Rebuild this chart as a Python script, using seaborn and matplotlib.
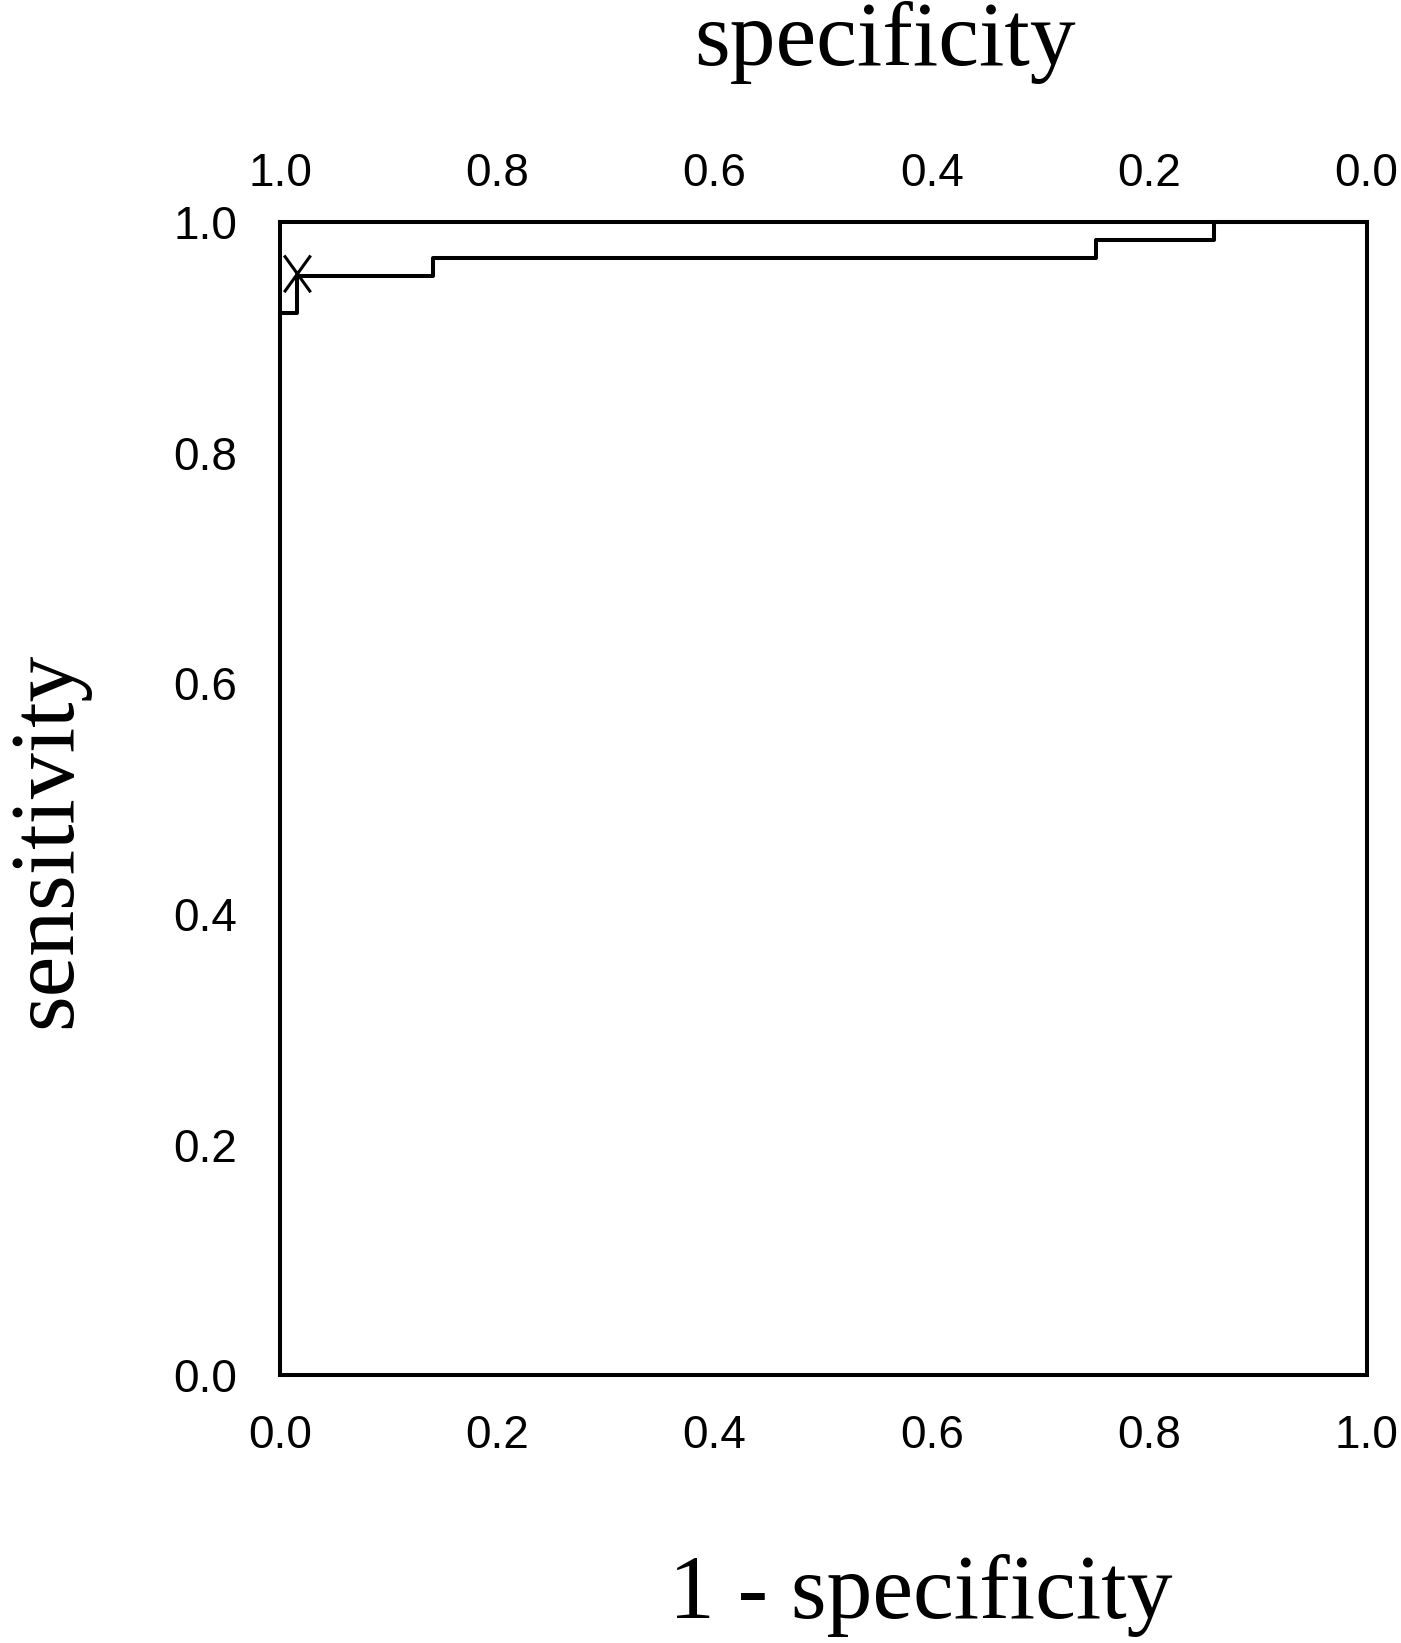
import numpy as np
import pandas as pd
import seaborn as sns
import matplotlib.pyplot as plt
from matplotlib.path import Path

# ROC curve vertices (1 - specificity, sensitivity)
fpr = [0.0, 0.0, 0.016, 0.016, 0.141, 0.141, 0.751, 0.751, 0.860, 0.860, 1.0]
tpr = [0.0, 0.921, 0.921, 0.953, 0.953, 0.969, 0.969, 0.984, 0.984, 1.0, 1.0]

# cut-off point marked with X
cut_fpr = [0.016]
cut_tpr = [0.955]

ticks = [0.0, 0.2, 0.4, 0.6, 0.8, 1.0]

df = pd.DataFrame({"fpr": fpr, "tpr": tpr})
cut = pd.DataFrame({"fpr": cut_fpr, "tpr": cut_tpr})

sns.set_style("white")
plt.rcParams["font.family"] = ["Liberation Sans", "DejaVu Sans"]
plt.rcParams["text.color"] = "black"
plt.rcParams["xtick.color"] = "black"
plt.rcParams["ytick.color"] = "black"

fig = plt.figure(figsize=(14.01, 16.43), dpi=100)
ax = fig.add_axes([0.1999, 0.1630, 0.7755, 0.7019])

sns.lineplot(data=df, x="fpr", y="tpr", sort=False, estimator=None,
             color="black", linewidth=2.9, ax=ax, clip_on=False)

xmark = Path([(-0.36, -0.5), (0.36, 0.5), (-0.36, 0.5), (0.36, -0.5)],
             [Path.MOVETO, Path.LINETO, Path.MOVETO, Path.LINETO])
sns.scatterplot(data=cut, x="fpr", y="tpr", marker=xmark, s=700,
                facecolor="none", edgecolor="black", linewidth=2.2,
                ax=ax, zorder=5, clip_on=False)

ax.set_xlim(0, 1)
ax.set_ylim(0, 1)
ax.set_xticks(ticks)
ax.set_yticks(ticks)
ax.set_xticklabels([f"{t:.1f}" for t in ticks])
ax.set_yticklabels([f"{t:.1f}" for t in ticks])
ax.tick_params(axis="x", length=0, pad=28, labelsize=33)
ax.tick_params(axis="y", length=0, pad=31, labelsize=33)
ax.set_xlabel("")
ax.set_ylabel("")
for s in ax.spines.values():
    s.set_visible(True)
    s.set_color("black")
    s.set_linewidth(2.9)

top = ax.secondary_xaxis("top", functions=(lambda x: 1 - x, lambda x: 1 - x))
top.set_xticks(ticks)
top.set_xticklabels([f"{t:.1f}" for t in ticks])
top.tick_params(axis="x", length=0, pad=19, labelsize=33)
top.spines["top"].set_visible(False)

serif = ["Liberation Serif", "DejaVu Serif"]
fig.text(0.632, 0.9604, "specificity", family=serif, fontsize=66,
         ha="center", va="baseline")
fig.text(0.657, 0.0152, "1 - specificity", family=serif, fontsize=66,
         ha="center", va="baseline")
fig.text(0.034, 0.489, "sensitivity", family=serif, fontsize=66,
         ha="center", va="center", rotation=90)

fig.savefig("out.png", dpi=100)
